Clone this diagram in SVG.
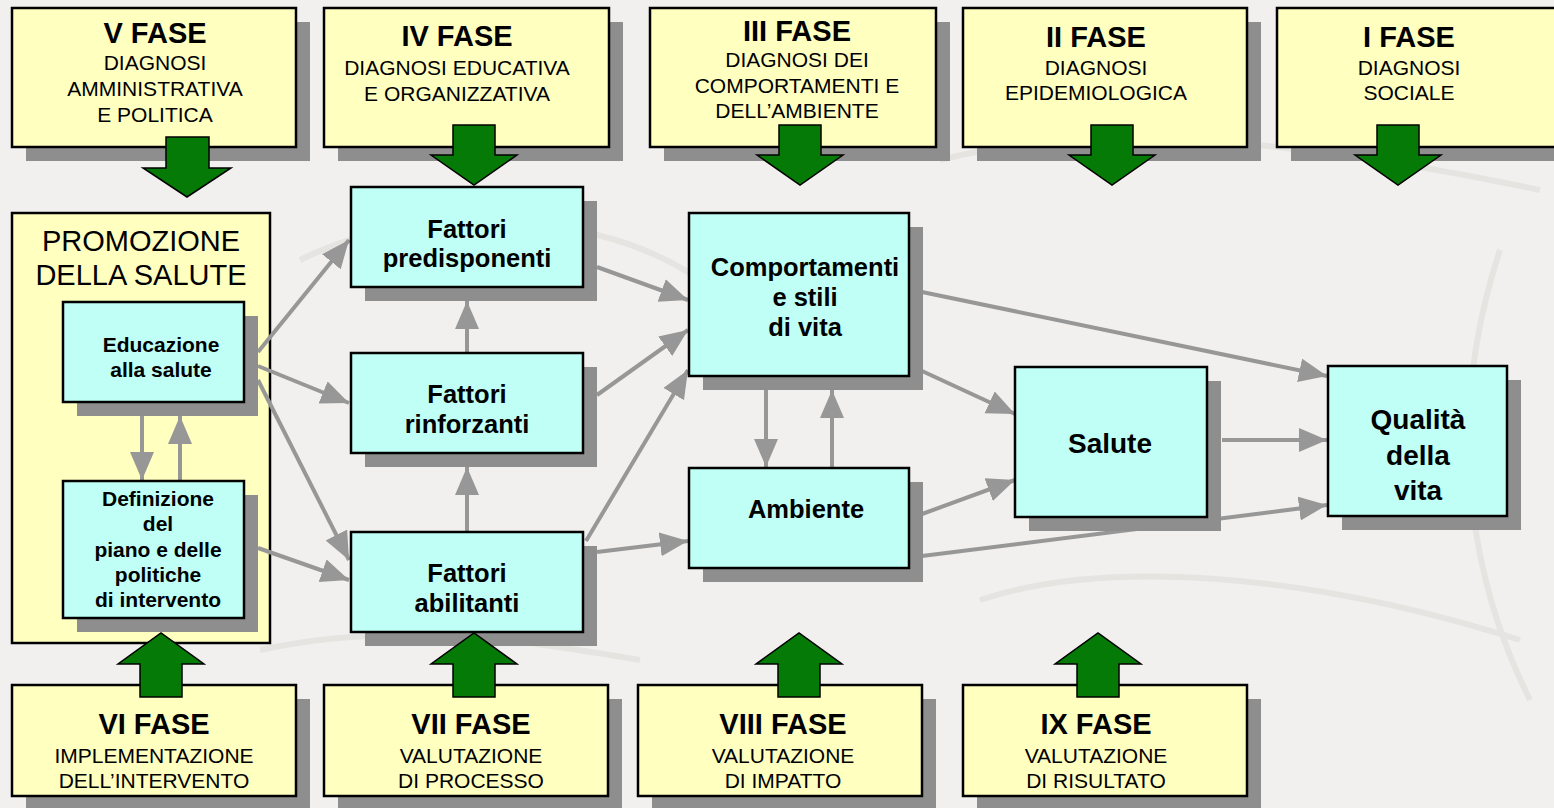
<svg xmlns="http://www.w3.org/2000/svg" width="1554" height="808" viewBox="0 0 1554 808">
<defs>
<style>
.bg{fill:#f1f0ee}
.wm{fill:none;stroke:#e6e4e0;stroke-width:6}
.sh{fill:#8e8e8e}
.yb{fill:#ffffc0;stroke:#000;stroke-width:2.5}
.cb{fill:#bffff6;stroke:#000;stroke-width:2.5}
.ga{fill:#067a06;stroke:#000;stroke-width:1.5;stroke-linejoin:miter}
.t{font-family:"Liberation Sans",Arial,sans-serif;text-anchor:middle;fill:#000}
.ti{font-size:29px;font-weight:bold}
.su{font-size:21px}
.pr{font-size:29px}
.sm{font-size:21px;font-weight:bold}
.md{font-size:25.5px;font-weight:bold}
.lg{font-size:28px;font-weight:bold}
.cn line{stroke:#979797;stroke-width:4;marker-end:url(#ah)}
</style>
<marker id="ah" markerUnits="userSpaceOnUse" markerWidth="30" markerHeight="26" refX="28" refY="12" orient="auto">
<path d="M0,0 L28,12 L0,24 z" fill="#979797"/>
</marker>
</defs>
<rect class="bg" x="0" y="0" width="1554" height="808"/>
<g id="watermark">
<path class="wm" d="M300,260 C420,200 600,210 700,280"/>
<path class="wm" d="M940,160 C1100,120 1300,140 1540,190"/>
<path class="wm" d="M980,600 C1100,560 1300,570 1520,640"/>
<path class="wm" d="M1500,250 C1450,400 1460,560 1530,700"/>
<path class="wm" d="M260,650 C400,620 520,640 640,660"/>
</g>

<g id="promozione">
<rect class="yb" x="12" y="213" width="258" height="430"/>
<text class="t pr" x="141" y="251">PROMOZIONE</text>
<text class="t pr" x="141" y="285">DELLA SALUTE</text>
</g>

<g id="connectors" class="cn">
<line x1="258" y1="352" x2="349" y2="240"/>
<line x1="258" y1="366" x2="349" y2="403"/>
<line x1="258" y1="380" x2="349" y2="560"/>
<line x1="258" y1="548" x2="349" y2="580"/>
<line x1="142" y1="416" x2="142" y2="480"/>
<line x1="180" y1="481" x2="180" y2="416"/>
<line x1="467" y1="353" x2="467" y2="301"/>
<line x1="467" y1="532" x2="467" y2="467"/>
<line x1="597" y1="267" x2="688" y2="300"/>
<line x1="597" y1="395" x2="688" y2="330"/>
<line x1="586" y1="541" x2="688" y2="370"/>
<line x1="597" y1="552" x2="688" y2="541"/>
<line x1="766" y1="390" x2="766" y2="467"/>
<line x1="832" y1="468" x2="832" y2="390"/>
<line x1="922" y1="292" x2="1327" y2="376"/>
<line x1="922" y1="371" x2="1015" y2="414"/>
<line x1="922" y1="514" x2="1015" y2="480"/>
<line x1="922" y1="556" x2="1327" y2="505"/>
<line x1="1222" y1="440" x2="1327" y2="440"/>
</g>

<g id="fase5">
<rect class="sh" x="26" y="22" width="284" height="139"/>
<rect class="yb" x="12" y="8" width="284" height="139"/>
<text class="t ti" x="155" y="43">V FASE</text>
<text class="t su" x="155" y="70">DIAGNOSI</text>
<text class="t su" x="155" y="96">AMMINISTRATIVA</text>
<text class="t su" x="155" y="122">E POLITICA</text>
<path class="ga" d="M166,137 H209 V168 H231 L187,197 L143,168 H166 Z"/>
</g>
<g id="fase4">
<rect class="sh" x="338" y="22" width="285" height="139"/>
<rect class="yb" x="324" y="8" width="285" height="139"/>
<text class="t ti" x="457" y="46">IV FASE</text>
<text class="t su" x="457" y="75">DIAGNOSI EDUCATIVA</text>
<text class="t su" x="457" y="101">E ORGANIZZATIVA</text>
<path class="ga" d="M453,125 H495 V155 H517 L474,185 L431,155 H453 Z"/>
</g>
<g id="fase3">
<rect class="sh" x="664" y="22" width="286" height="139"/>
<rect class="yb" x="650" y="8" width="286" height="139"/>
<text class="t ti" x="797" y="41">III FASE</text>
<text class="t su" x="797" y="67">DIAGNOSI DEI</text>
<text class="t su" x="797" y="93">COMPORTAMENTI E</text>
<text class="t su" x="797" y="118">DELL’AMBIENTE</text>
<path class="ga" d="M779,125 H821 V155 H843 L800,185 L757,155 H779 Z"/>
</g>
<g id="fase2">
<rect class="sh" x="977" y="22" width="284" height="139"/>
<rect class="yb" x="963" y="8" width="284" height="139"/>
<text class="t ti" x="1096" y="47">II FASE</text>
<text class="t su" x="1096" y="75">DIAGNOSI</text>
<text class="t su" x="1096" y="100">EPIDEMIOLOGICA</text>
<path class="ga" d="M1091,125 H1133 V155 H1155 L1112,185 L1069,155 H1091 Z"/>
</g>
<g id="fase1">
<rect class="sh" x="1291" y="22" width="284" height="139"/>
<rect class="yb" x="1277" y="8" width="284" height="139"/>
<text class="t ti" x="1409" y="47">I FASE</text>
<text class="t su" x="1409" y="75">DIAGNOSI</text>
<text class="t su" x="1409" y="100">SOCIALE</text>
<path class="ga" d="M1377,125 H1419 V155 H1441 L1398,185 L1355,155 H1377 Z"/>
</g>

<g id="educazione">
<rect class="sh" x="77" y="316" width="181" height="100"/>
<rect class="cb" x="63" y="302" width="181" height="100"/>
<text class="t sm" x="161" y="352">Educazione</text>
<text class="t sm" x="161" y="377">alla salute</text>
</g>
<g id="definizione">
<rect class="sh" x="77" y="495" width="181" height="137"/>
<rect class="cb" x="63" y="481" width="181" height="137"/>
<text class="t sm" x="158" y="506">Definizione</text>
<text class="t sm" x="158" y="531">del</text>
<text class="t sm" x="158" y="557">piano e delle</text>
<text class="t sm" x="158" y="582">politiche</text>
<text class="t sm" x="158" y="607">di intervento</text>
</g>
<g id="predisponenti">
<rect class="sh" x="365" y="201" width="232" height="100"/>
<rect class="cb" x="351" y="187" width="232" height="100"/>
<text class="t md" x="467" y="238">Fattori</text>
<text class="t md" x="467" y="267">predisponenti</text>
</g>
<g id="rinforzanti">
<rect class="sh" x="365" y="367" width="232" height="100"/>
<rect class="cb" x="351" y="353" width="232" height="100"/>
<text class="t md" x="467" y="403">Fattori</text>
<text class="t md" x="467" y="433">rinforzanti</text>
</g>
<g id="abilitanti">
<rect class="sh" x="365" y="546" width="232" height="100"/>
<rect class="cb" x="351" y="532" width="232" height="100"/>
<text class="t md" x="467" y="582">Fattori</text>
<text class="t md" x="467" y="612">abilitanti</text>
</g>
<g id="comportamenti">
<rect class="sh" x="703" y="227" width="220" height="163"/>
<rect class="cb" x="689" y="213" width="220" height="163"/>
<text class="t md" x="805" y="276">Comportamenti</text>
<text class="t md" x="805" y="306">e stili</text>
<text class="t md" x="805" y="336">di vita</text>
</g>
<g id="ambiente">
<rect class="sh" x="703" y="482" width="220" height="100"/>
<rect class="cb" x="689" y="468" width="220" height="100"/>
<text class="t md" x="806" y="518">Ambiente</text>
</g>
<g id="salute">
<rect class="sh" x="1029" y="381" width="192" height="150"/>
<rect class="cb" x="1015" y="367" width="192" height="150"/>
<text class="t lg" x="1110" y="453">Salute</text>
</g>
<g id="qualita">
<rect class="sh" x="1342" y="380" width="179" height="150"/>
<rect class="cb" x="1328" y="366" width="179" height="150"/>
<text class="t lg" x="1418" y="429">Qualità</text>
<text class="t lg" x="1418" y="465">della</text>
<text class="t lg" x="1418" y="500">vita</text>
</g>

<g id="fase6">
<rect class="sh" x="26" y="699" width="284" height="111"/>
<rect class="yb" x="12" y="685" width="284" height="111"/>
<text class="t ti" x="154" y="734">VI FASE</text>
<text class="t su" x="154" y="763">IMPLEMENTAZIONE</text>
<text class="t su" x="154" y="788">DELL’INTERVENTO</text>
<path class="ga" d="M140,697 V664 H118 L161,633 L204,664 H182 V697 Z"/>
</g>
<g id="fase7">
<rect class="sh" x="338" y="699" width="284" height="111"/>
<rect class="yb" x="324" y="685" width="284" height="111"/>
<text class="t ti" x="471" y="734">VII FASE</text>
<text class="t su" x="471" y="763">VALUTAZIONE</text>
<text class="t su" x="471" y="788">DI PROCESSO</text>
<path class="ga" d="M453,697 V664 H431 L474,633 L517,664 H495 V697 Z"/>
</g>
<g id="fase8">
<rect class="sh" x="652" y="699" width="284" height="111"/>
<rect class="yb" x="638" y="685" width="284" height="111"/>
<text class="t ti" x="783" y="734">VIII FASE</text>
<text class="t su" x="783" y="763">VALUTAZIONE</text>
<text class="t su" x="783" y="788">DI IMPATTO</text>
<path class="ga" d="M778,697 V664 H756 L799,633 L842,664 H820 V697 Z"/>
</g>
<g id="fase9">
<rect class="sh" x="977" y="699" width="284" height="111"/>
<rect class="yb" x="963" y="685" width="284" height="111"/>
<text class="t ti" x="1096" y="734">IX FASE</text>
<text class="t su" x="1096" y="763">VALUTAZIONE</text>
<text class="t su" x="1096" y="788">DI RISULTATO</text>
<path class="ga" d="M1077,697 V664 H1055 L1098,633 L1141,664 H1119 V697 Z"/>
</g>
</svg>
